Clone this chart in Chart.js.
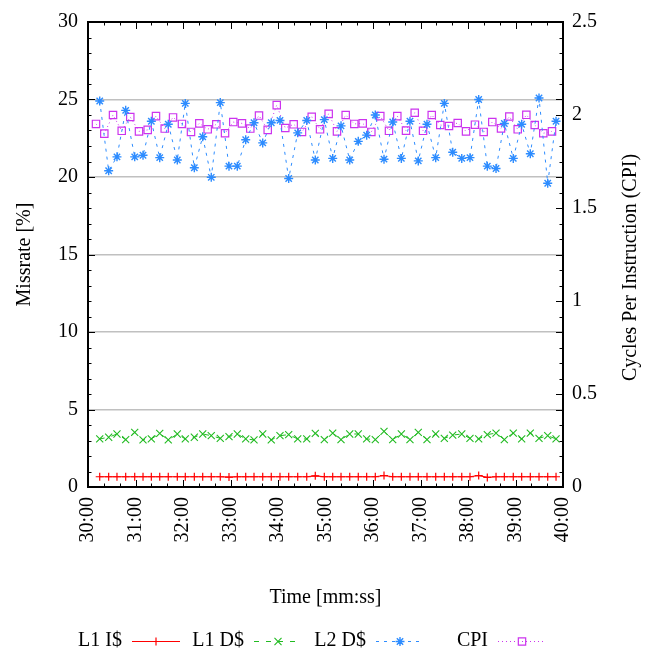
<!DOCTYPE html>
<html><head><meta charset="utf-8">
<script src="https://cdn.jsdelivr.net/npm/chart.js@4.4.1/dist/chart.umd.min.js"></script>
<style>html,body{margin:0;padding:0;background:#fff;}#wrap{width:651px;height:654px;}</style>
</head><body><div id="wrap"><canvas id="c" width="651" height="654"></canvas></div>
<script>
// ---- data (time in seconds) ----
const seriesNames = ['L1 I$', 'L1 D$', 'L2 D$', 'CPI'];
const times = [1814.8,1826.1,1836.6,1847.6,1859.0,1869.5,1880.0,1890.6,1901.4,1912.8,1922.9,1934.3,1944.9,1955.7,1967.1,1978.1,1988.6,1999.2,2009.7,2020.7,2031.5,2042.5,2053.5,2064.9,2076.3,2087.1,2098.5,2109.1,2119.6,2130.6,2141.4,2152.0,2162.9,2173.9,2184.9,2195.8,2206.7,2217.2,2228.2,2239.2,2250.1,2260.7,2272.1,2282.5,2293.5,2304.4,2315.4,2325.9,2337.2,2347.8,2358.7,2369.7,2380.7,2391.2];
const cpiTimes = [1810.1,1820.6,1831.6,1842.6,1853.4,1864.4,1875.4,1885.9,1896.9,1907.4,1918.7,1930.1,1940.6,1951.2,1962.1,1973.1,1983.5,1994.5,2005.0,2016.0,2027.0,2038.4,2049.2,2059.8,2070.3,2082.6,2093.1,2104.0,2114.5,2125.5,2136.4,2147.0,2157.9,2169.2,2180.2,2190.7,2201.7,2212.7,2223.2,2234.2,2245.0,2256.0,2267.0,2277.5,2288.8,2299.8,2310.7,2321.7,2332.2,2342.8,2353.7,2364.3,2375.1,2386.1];
const l1iMiss = [0.66,0.66,0.66,0.66,0.66,0.66,0.66,0.66,0.66,0.66,0.66,0.66,0.66,0.66,0.66,0.64,0.66,0.66,0.66,0.66,0.66,0.66,0.66,0.66,0.66,0.72,0.66,0.66,0.66,0.66,0.66,0.66,0.66,0.74,0.66,0.66,0.66,0.66,0.66,0.66,0.66,0.66,0.66,0.66,0.74,0.62,0.66,0.66,0.66,0.66,0.66,0.66,0.66,0.66];
const l1dMiss = [3.10,3.21,3.42,3.06,3.52,3.04,3.10,3.46,3.04,3.42,3.10,3.21,3.42,3.31,3.14,3.25,3.42,3.10,3.04,3.42,3.04,3.31,3.38,3.10,3.10,3.46,3.06,3.48,3.06,3.42,3.42,3.10,3.06,3.59,3.06,3.42,3.06,3.52,3.06,3.42,3.14,3.35,3.42,3.14,3.10,3.38,3.48,3.06,3.48,3.10,3.48,3.14,3.31,3.10];
const l2dMiss = [24.9,20.4,21.3,24.3,21.3,21.4,23.6,21.25,23.4,21.1,24.75,20.6,22.6,19.98,24.8,20.7,20.7,22.4,23.5,22.2,23.5,23.65,19.9,22.85,23.65,21.1,23.7,21.2,23.3,21.1,22.3,22.7,24.0,21.15,23.55,21.2,23.6,21.04,23.4,21.25,24.75,21.6,21.2,21.25,25.0,20.7,20.55,23.45,21.2,23.4,21.5,25.1,19.6,23.6];
const cpiValues = [1.952,1.900,2.000,1.915,1.989,1.912,1.920,1.994,1.927,1.987,1.952,1.909,1.955,1.923,1.950,1.902,1.962,1.955,1.927,1.997,1.920,2.053,1.930,1.950,1.909,1.990,1.923,2.006,1.912,2.000,1.952,1.955,1.909,1.994,1.915,1.994,1.916,2.012,1.915,2.000,1.946,1.941,1.957,1.912,1.948,1.909,1.962,1.928,1.992,1.923,2.001,1.946,1.902,1.912];
const xRange = [1800, 2400];
const xMajorStep = 60, xMinorStep = 20;
const yRange = [0, 30], yMajorStep = 5, yMinorStep = 1;
const y2Range = [0, 2.5], y2MajorStep = 0.5;
const xTitle = 'Time [mm:ss]';
const yTitle = 'Missrate [%]';
const y2Title = 'Cycles Per Instruction (CPI)';

const FONT = '"Liberation Serif", "Times New Roman", serif';
Chart.defaults.font.family = FONT;
Chart.defaults.font.size = 20;
Chart.defaults.color = '#000';

const pts = (xs, ys) => xs.map((x, i) => ({x, y: ys[i]}));

function fmtTime(v) {
  const m = Math.floor(v / 60), s = Math.round(v - m * 60);
  return m + ':' + String(s).padStart(2, '0');
}

const datasets = [
  {label: seriesNames[0], data: pts(times, l1iMiss), yAxisID: 'y', borderColor: '#ff0000', backgroundColor: '#ff0000',
   borderWidth: 1.2, pointStyle: 'cross', pointRadius: 4, pointBorderWidth: 1.2, pointBorderColor: '#ff0000'},
  {label: seriesNames[1], data: pts(times, l1dMiss), yAxisID: 'y', borderColor: '#22bb22', backgroundColor: '#22bb22',
   borderWidth: 1, borderDash: [5, 7], pointStyle: 'crossRot', pointRadius: 5, pointBorderWidth: 1.1, pointBorderColor: '#22bb22'},
  {label: seriesNames[2], data: pts(times, l2dMiss), yAxisID: 'y', borderColor: '#2d8cff', backgroundColor: '#2d8cff',
   borderWidth: 1, borderDash: [3, 5], pointStyle: 'star', pointRadius: 4.5, pointBorderWidth: 1.4, pointBorderColor: '#2d8cff'},
  {label: seriesNames[3], data: pts(cpiTimes, cpiValues), yAxisID: 'y2', borderColor: '#cc33ee', backgroundColor: 'rgba(0,0,0,0)',
   borderWidth: 1, borderDash: [1, 3], pointStyle: 'rect', pointRadius: 5.2, pointBorderWidth: 1.2, pointBorderColor: '#cc33ee',
   pointBackgroundColor: 'rgba(0,0,0,0)'}
];

const framePlugin = {
  id: 'gnuframe',
  afterDatasetsDraw(chart) {
    const {ctx, chartArea: a, scales} = chart;
    const sx = scales.x, sy = scales.y, sy2 = scales.y2;
    const L = Math.round(a.left), R = Math.round(a.right), T = Math.round(a.top), B = Math.round(a.bottom);
    ctx.save();
    ctx.strokeStyle = '#000';
    ctx.lineWidth = 1;
    ctx.setLineDash([]);
    ctx.beginPath();
    const major = 7, minor = 3.5;
    for (let v = xRange[0]; v <= xRange[1] + 1e-6; v += xMinorStep) {
      const px = Math.round(sx.getPixelForValue(v)) + 0.5;
      const len = Math.abs((v - xRange[0]) % xMajorStep) < 1e-6 ? major : minor;
      ctx.moveTo(px, B); ctx.lineTo(px, B - len);
      ctx.moveTo(px, T); ctx.lineTo(px, T + len);
    }
    for (let v = yRange[0]; v <= yRange[1] + 1e-6; v += yMinorStep) {
      const py = Math.round(sy.getPixelForValue(v)) + 0.5;
      const len = Math.abs(v % yMajorStep) < 1e-6 ? major : minor;
      ctx.moveTo(L, py); ctx.lineTo(L + len, py);
      ctx.moveTo(R, py); ctx.lineTo(R - len, py);
    }
    for (let v = y2Range[0]; v <= y2Range[1] + 1e-6; v += y2MajorStep) {
      const py = Math.round(sy2.getPixelForValue(v)) + 0.5;
      ctx.moveTo(R, py); ctx.lineTo(R - major, py);
    }
    ctx.stroke();
    ctx.lineWidth = 2;
    ctx.strokeRect(L, T, R - L, B - T);
    ctx.restore();
  },
  afterDraw(chart) {
    const {ctx, chartArea: a} = chart;
    ctx.save();
    // right axis title, reading bottom-to-top
    ctx.font = '20px ' + FONT;
    ctx.fillStyle = '#000';
    ctx.textAlign = 'center';
    ctx.textBaseline = 'middle';
    ctx.translate(631, (a.top + a.bottom) / 2 + 13);
    ctx.rotate(-Math.PI / 2);
    ctx.fillText(y2Title, 0, 0);
    ctx.restore();

    // gnuplot-style key: text then sample
    ctx.save();
    const legendY = 641, firstRight = 122, step = 122;
    chart.data.datasets.forEach((ds, i) => {
      const tr = firstRight + i * step;
      ctx.font = '20px ' + FONT;
      ctx.fillStyle = '#000';
      ctx.textAlign = 'right';
      ctx.textBaseline = 'middle';
      ctx.fillText(ds.label, tr, legendY);
      const x1 = tr + 10, x2 = tr + 58;
      ctx.strokeStyle = ds.borderColor;
      ctx.lineWidth = ds.borderWidth;
      ctx.setLineDash(ds.borderDash || []);
      ctx.beginPath();
      ctx.moveTo(x1, legendY + 0.5); ctx.lineTo(x2, legendY + 0.5);
      ctx.stroke();
      ctx.setLineDash([]);
      ctx.fillStyle = 'rgba(0,0,0,0)';
      ctx.strokeStyle = ds.pointBorderColor;
      ctx.lineWidth = ds.pointBorderWidth;
      if (Chart.helpers && Chart.helpers.drawPoint) {
        Chart.helpers.drawPoint(ctx, {pointStyle: ds.pointStyle, radius: ds.pointRadius, borderWidth: ds.pointBorderWidth, rotation: 0},
          (x1 + x2) / 2, legendY + 0.5);
      }
    });
    ctx.restore();
  }
};

new Chart(document.getElementById('c'), {
  type: 'line',
  data: {datasets},
  options: {
    responsive: false,
    animation: false,
    devicePixelRatio: 1,
    layout: {padding: {top: 16, bottom: 44, left: 0, right: 0}},
    plugins: {legend: {display: false}, tooltip: {enabled: false}},
    elements: {line: {tension: 0}},
    scales: {
      x: {
        type: 'linear', position: 'bottom', min: xRange[0], max: xRange[1],
        grid: {display: false, drawTicks: false}, border: {display: false},
        ticks: {stepSize: xMajorStep, autoSkip: false, maxRotation: 90, minRotation: 90, padding: 10,
                callback: v => fmtTime(v)},
        title: {display: true, text: xTitle, padding: {top: 0, bottom: 0}},
        afterFit: s => { s.height = 123; }
      },
      y: {
        type: 'linear', position: 'left', min: yRange[0], max: yRange[1],
        grid: {color: '#c0c0c0', lineWidth: 1.5, drawTicks: false}, border: {display: false},
        ticks: {stepSize: yMajorStep, padding: 10},
        title: {display: true, text: yTitle, padding: {top: 13, bottom: 0}},
        afterFit: s => { s.width = 88; }
      },
      y2: {
        type: 'linear', position: 'right', min: y2Range[0], max: y2Range[1],
        grid: {display: false, drawTicks: false}, border: {display: false},
        ticks: {stepSize: y2MajorStep, padding: 9, callback: v => String(Math.round(v * 10) / 10)},
        afterFit: s => { s.width = 88; }
      }
    }
  },
  plugins: [framePlugin]
});
</script>
</body></html>
